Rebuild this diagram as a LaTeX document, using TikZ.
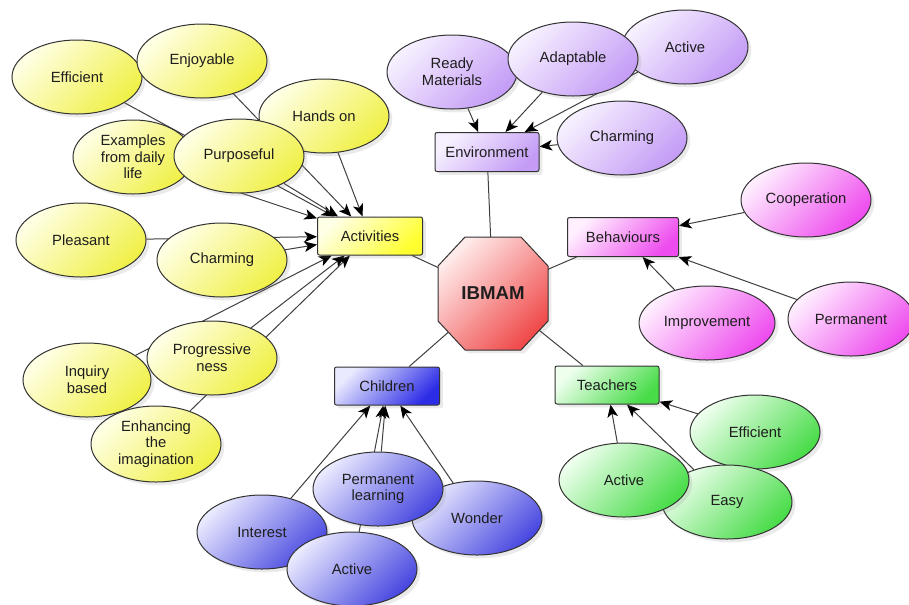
\documentclass[tikz,border=0pt]{standalone}
\usepackage{fontspec}
\setmainfont{Liberation Sans}
\usetikzlibrary{shapes.geometric,arrows.meta,shadows}
\pgfdeclarelayer{paper}
\pgfdeclarelayer{bg}
\pgfsetlayers{paper,bg,main}
\definecolor{txt}{HTML}{1E1E1E}
\definecolor{outl}{HTML}{333333}
\definecolor{lnc}{HTML}{404040}
\definecolor{yL}{HTML}{FFFFE6}
\definecolor{yD}{HTML}{F0F048}
\definecolor{ybD}{HTML}{FFFF30}
\definecolor{pL}{HTML}{F7F1FF}
\definecolor{pD}{HTML}{C49CF6}
\definecolor{kL}{HTML}{FFEFFF}
\definecolor{kD}{HTML}{EE4CEE}
\definecolor{gL}{HTML}{EEFFEE}
\definecolor{gD}{HTML}{48DC48}
\definecolor{bL}{HTML}{EAEAFF}
\definecolor{bD}{HTML}{4848E0}
\definecolor{bbD}{HTML}{2C2CE6}
\definecolor{rL}{HTML}{FFEAEA}
\definecolor{rD}{HTML}{F04C4C}
\begin{document}
\begin{tikzpicture}[x=0.75pt,y=-0.75pt,
  font=\fontsize{11.1}{12.5}\selectfont, text=txt,
  shad/.style={drop shadow={opacity=0.16,shadow xshift=2.5pt,shadow yshift=-2.5pt}},
  ell/.style={ellipse, draw=outl, line width=0.75pt, inner sep=0pt,
    minimum width=97.5pt, minimum height=55.5pt, align=center, shad},
  box/.style={rectangle, rounded corners=1.5pt, draw=outl, line width=0.75pt,
    inner sep=0pt, minimum width=78.75pt, minimum height=28.5pt, shad},
  fy/.style={top color=yL, bottom color=yD, shading angle=45},
  fyb/.style={top color=yL, bottom color=ybD, shading angle=45},
  fp/.style={top color=pL, bottom color=pD, shading angle=45},
  fk/.style={top color=kL, bottom color=kD, shading angle=45},
  fg/.style={top color=gL, bottom color=gD, shading angle=45},
  fb/.style={top color=bL, bottom color=bD, shading angle=45},
  fbb/.style={top color=bL, bottom color=bbD, shading angle=45},
  fr/.style={top color=rL, bottom color=rD, shading angle=45},
  conn/.style={draw=lnc, line width=0.75pt, -{Stealth[length=9.5pt,width=8pt,inset=2.5pt,color=black]}},
  link/.style={draw=lnc, line width=0.75pt}
]
\begin{pgfonlayer}{paper}
\fill[white] (0,0) rectangle (909,604);
\end{pgfonlayer}
\useasboundingbox (0,0) rectangle (909,604);

% central octagon
\path[draw=outl, line width=0.75pt, fr, shad]
  (465,237) -- (521,237) -- (548,266) -- (548,321) -- (521,350)
  -- (465,350) -- (438,321) -- (438,266) -- cycle;
\node[font=\fontsize{14}{16}\selectfont\bfseries, inner sep=0pt] (ibm) at (493,293) {IBMAM};

% Activities group
\node[ell,fy] (eff) at (77,77) {Efficient};
\node[ell,fy] (enj) at (202,61) {Enjoyable};
\node[ell,fy,minimum width=90pt] (exa) at (133,157) {Examples\\from daily\\life};
\node[ell,fy] (han) at (324,116) {Hands on};
\node[ell,fy] (pur) at (239,156) {Purposeful};
\node[ell,fy] (ple) at (81,240) {Pleasant};
\node[ell,fy] (cha) at (222,260) {Charming};
\node[ell,fy] (pro) at (212,358) {Progressive\\ness};
\node[ell,fy,minimum width=96pt] (inq) at (87,380) {Inquiry\\based};
\node[ell,fy,minimum height=57pt] (enh) at (156,444) {Enhancing\\the\\imagination};
\node[box,fyb] (act) at (370,236) {Activities};

% Environment group
\node[ell,fp] (rea) at (452,72) {Ready\\Materials};
\node[ell,fp,minimum width=94.5pt] (actp) at (685,47) {Active};
\node[ell,fp] (ada) at (573,59) {Adaptable};
\node[ell,fp] (chp) at (622,138) {Charming};
\node[box,fp,minimum width=78pt,minimum height=29.25pt] (env) at (487,152) {Environment};

% Behaviours group
\node[ell,fk] (coo) at (806,200) {Cooperation};
\node[ell,fk,minimum width=102pt] (imp) at (707,323) {Improvement};
\node[ell,fk,minimum width=94.5pt] (per) at (851,319) {Permanent};
\node[box,fk,minimum width=83.25pt,minimum height=29.25pt] (beh) at (623,237) {Behaviours};

% Teachers group
\node[ell,fg] (effg) at (755,432) {Efficient};
\node[ell,fg] (eas) at (727,502) {Easy};
\node[ell,fg] (actg) at (624,480) {Active};
\node[box,fg,minimum width=78pt] (tea) at (607,385) {Teachers};

% Children group
\node[ell,fb] (won) at (477,518) {Wonder};
\node[ell,fb] (pel) at (378,489) {Permanent\\learning};
\node[ell,fb] (int) at (262,532) {Interest};
\node[ell,fb] (actb) at (352,569) {Active};
\node[box,fbb] (chi) at (387,386) {Children};

\begin{pgfonlayer}{bg}
  \foreach \s in {eff,enj,exa,han,pur,ple,cha,pro,inq,enh} \draw[conn] (\s) -- (act);
  \foreach \s in {rea,ada,actp,chp} \draw[conn] (\s) -- (env);
  \foreach \s in {coo,imp,per} \draw[conn] (\s) -- (beh);
  \foreach \s in {effg,eas,actg} \draw[conn] (\s) -- (tea);
  \foreach \s in {won,pel,int,actb} \draw[conn] (\s) -- (chi);
  \foreach \t in {act,env,beh,tea,chi} \draw[link] (ibm.center) -- (\t);
\end{pgfonlayer}
\end{tikzpicture}
\end{document}
